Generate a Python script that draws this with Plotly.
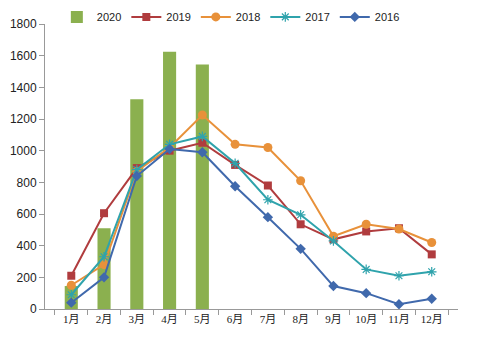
import plotly.graph_objects as go

months = ["1月", "2月", "3月", "4月", "5月", "6月", "7月", "8月", "9月", "10月", "11月", "12月"]
v2020 = [145, 510, 1325, 1625, 1545]
v2019 = [210, 605, 890, 1000, 1050, 910, 780, 535, 440, 490, 510, 345]
v2018 = [150, 280, 870, 1020, 1225, 1040, 1020, 810, 460, 535, 505, 420]
v2017 = [90, 330, 880, 1040, 1090, 920, 690, 595, 430, 250, 210, 235]
v2016 = [40, 200, 840, 1010, 990, 775, 580, 380, 145, 100, 30, 65]

fig = go.Figure()
fig.add_trace(go.Bar(x=months[:len(v2020)], y=v2020, name="2020",
                     marker=dict(color="#8BB04F", line=dict(width=0)), width=0.4))
fig.add_trace(go.Scatter(x=months, y=v2019, name="2019", mode="lines+markers",
                         line=dict(color="#B03C3E", width=2),
                         marker=dict(symbol="square", size=8, color="#B03C3E")))
fig.add_trace(go.Scatter(x=months, y=v2018, name="2018", mode="lines+markers",
                         line=dict(color="#E8913A", width=2),
                         marker=dict(symbol="circle", size=9, color="#E8913A")))
fig.add_trace(go.Scatter(x=months, y=v2017, name="2017", mode="lines+markers",
                         line=dict(color="#2FA3AC", width=2),
                         marker=dict(symbol="asterisk-open", size=8, color="#2FA3AC",
                                     line=dict(width=1.2, color="#2FA3AC"))))
fig.add_trace(go.Scatter(x=months, y=v2016, name="2016", mode="lines+markers",
                         line=dict(color="#4069AC", width=2),
                         marker=dict(symbol="diamond", size=8, color="#4069AC")))

fig.update_layout(
    width=481, height=343,
    margin=dict(l=45, r=23, t=24, b=34, autoexpand=False),
    paper_bgcolor="white", plot_bgcolor="white",
    bargap=0.6,
    font=dict(family="Liberation Sans, Arial, sans-serif", size=12, color="#222"),
    legend=dict(orientation="h", x=0.45, xanchor="center", y=1.025, yanchor="middle",
                font=dict(size=11), itemwidth=30,
                tracegroupgap=0, bgcolor="rgba(0,0,0,0)"),
    xaxis=dict(type="category", tickson="boundaries", ticks="outside", ticklen=5,
               tickangle=0,
               tickcolor="#999", showline=True, linecolor="#999", linewidth=1,
               showgrid=False,
               tickfont=dict(family="Liberation Serif, Noto Sans CJK SC", size=11)),
    yaxis=dict(range=[0, 1800], dtick=200, ticks="outside", ticklen=5,
               tickcolor="#999", showline=True, linecolor="#999", linewidth=1,
               showgrid=False, zeroline=False, tickfont=dict(size=12)),
)
fig.write_html("out.html")
